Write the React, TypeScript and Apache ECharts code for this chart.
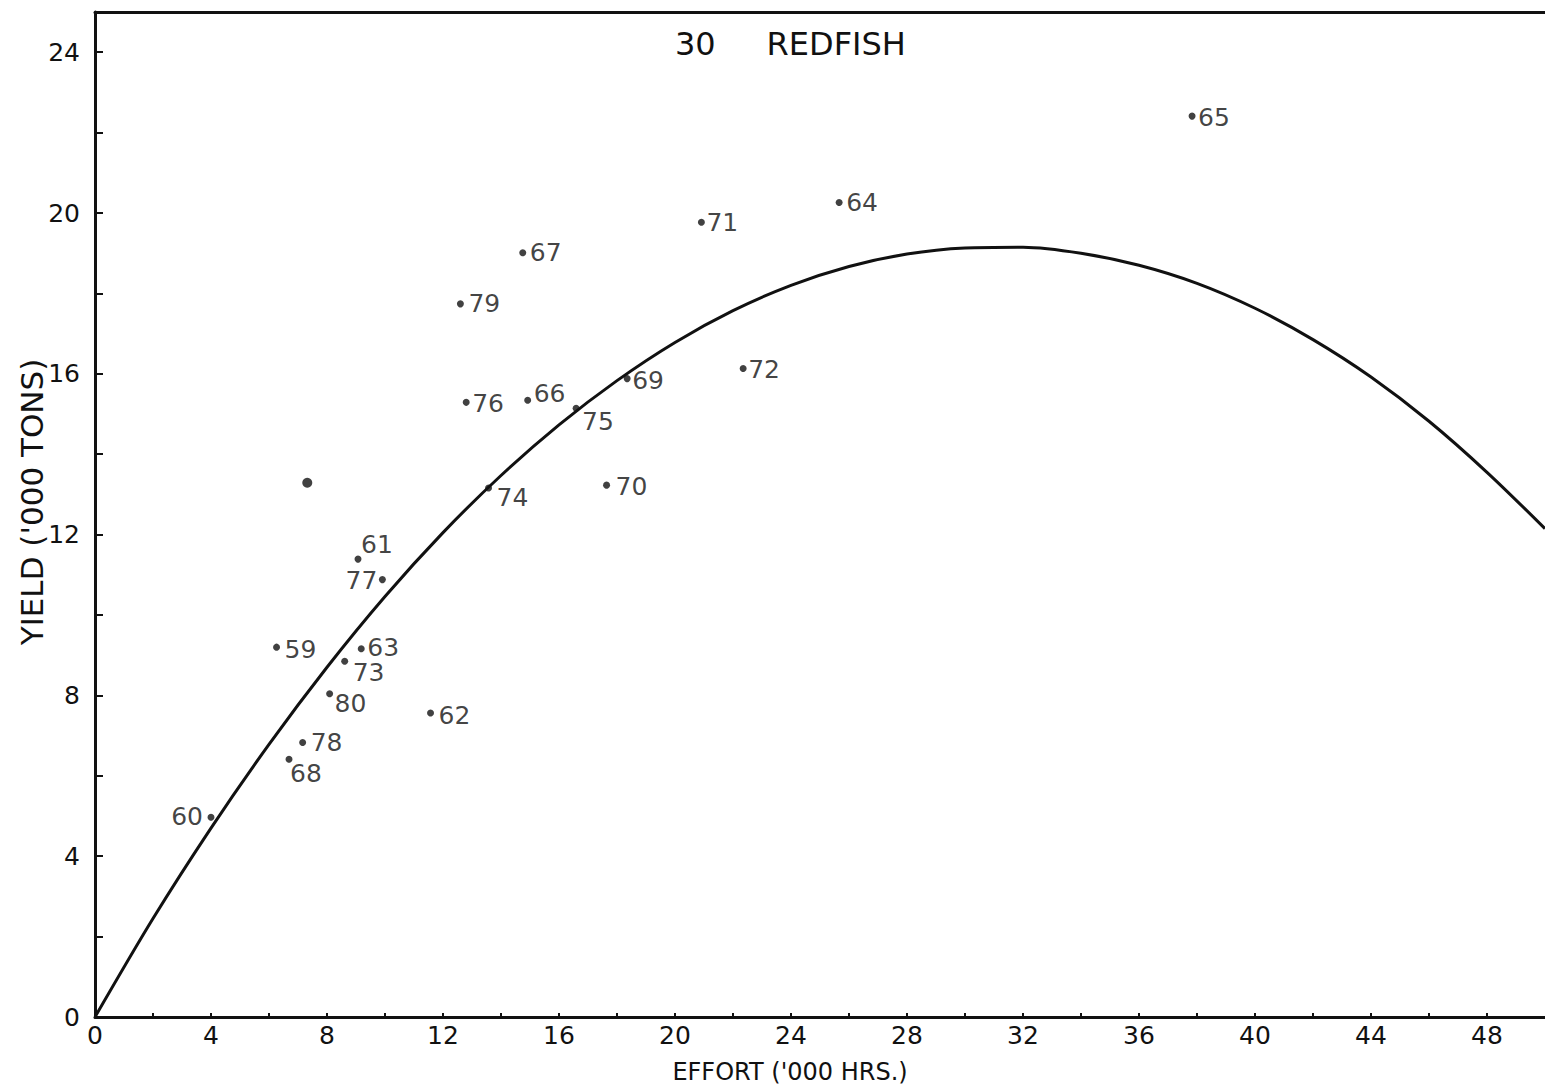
import React, { useEffect, useRef } from "react";
import * as echarts from "echarts";

// ---- data ----
const years = ["59", "60", "61", "62", "63", "64", "65", "66", "67", "68", "69", "70", "71", "72", "73", "74", "75", "76", "77", "78", "79", "80"];
const effort = [6.26, 4.0, 9.07, 11.57, 9.18, 25.66, 37.83, 14.92, 14.75, 6.69, 18.35, 17.64, 20.91, 22.35, 8.61, 13.57, 16.59, 12.8, 9.91, 7.16, 12.6, 8.09];
const yieldTons = [9.2, 4.97, 11.39, 7.56, 9.16, 20.26, 22.41, 15.34, 19.01, 6.41, 15.88, 13.23, 19.77, 16.13, 8.85, 13.16, 15.14, 15.29, 10.88, 6.83, 17.74, 8.04];
const extraEffort = [7.32];
const extraYield = [13.29];
const curveEffort = [0, 2, 4, 6, 8, 10, 12, 14, 16, 18, 20, 22, 24, 26, 28, 30, 32, 34, 36, 38, 40, 42, 44, 46, 48, 50];
const curveYield = [0, 2.45, 4.7, 6.78, 8.7, 10.46, 12.05, 13.47, 14.73, 15.83, 16.78, 17.57, 18.2, 18.67, 18.98, 19.13, 19.15, 19.0, 18.7, 18.25, 17.63, 16.85, 15.92, 14.82, 13.55, 12.15];
const titleText = "30\u00a0\u00a0\u00a0\u00a0\u00a0REDFISH";
const xName = "EFFORT ('000 HRS.)";
const yName = "YIELD ('000 TONS)";

// ---- label placement (layout, not data) ----
const labelLayout: Record<string, [string, number, number]> = {
  "59": ["right", 8, 2],
  "60": ["left", 8, -1],
  "61": ["right", 3, -15],
  "62": ["right", 8, 2],
  "63": ["right", 6, -1],
  "64": ["right", 7, 0],
  "65": ["right", 6, 1],
  "66": ["right", 6, -7],
  "67": ["right", 7, 0],
  "68": ["right", 1, 14],
  "69": ["right", 5, 2],
  "70": ["right", 9, 1],
  "71": ["right", 5, 0],
  "72": ["right", 5, 1],
  "73": ["right", 8, 11],
  "74": ["right", 8, 10],
  "75": ["right", 6, 13],
  "76": ["right", 6, 1],
  "77": ["left", 5, 1],
  "78": ["right", 8, 0],
  "79": ["right", 8, 0],
  "80": ["right", 5, 10],
};

const FONT = "DejaVu Sans";
const INK = "#111111";
const DOT = 7;

export default function App() {
  const ref = useRef<HTMLDivElement>(null);
  useEffect(() => {
    if (!ref.current) return;
    const chart = echarts.init(ref.current, null, { renderer: "svg" });
    const pts = years.map((yr, i) => {
      const [side, gap, dy] = labelLayout[yr];
      const dx = side === "right" ? gap - DOT / 2 : -(gap - DOT / 2);
      return {
        value: [effort[i], yieldTons[i]],
        label: {
          show: true,
          formatter: yr,
          position: side,
          distance: 0,
          offset: [dx, dy],
        },
      };
    });
    const curve = curveEffort.map((x, i) => [x, curveYield[i]]);
    const extra = extraEffort.map((x, i) => [x, extraYield[i]]);
    chart.setOption({
      animation: false,
      backgroundColor: "#ffffff",
      textStyle: { fontFamily: FONT, color: INK },
      grid: { left: 95, right: -6, top: 12, bottom: 72, containLabel: false },
      xAxis: [
        {
          type: "value",
          min: 0,
          max: 50,
          interval: 2,
          splitLine: { show: false },
          axisLine: { show: true, onZero: false, lineStyle: { color: INK, width: 3 } },
          axisTick: { show: true, inside: true, length: 4, lineStyle: { color: INK, width: 2 } },
          axisLabel: {
            margin: 6,
            fontSize: 25,
            fontFamily: FONT,
            color: INK,
            showMaxLabel: false,
            formatter: (v: number) => (v % 4 === 0 ? String(v) : ""),
          },
        },
        {
          type: "value",
          position: "top",
          min: 0,
          max: 50,
          splitLine: { show: false },
          axisLine: { show: true, onZero: false, lineStyle: { color: INK, width: 3 } },
          axisTick: { show: false },
          axisLabel: { show: false },
        },
      ],
      yAxis: {
        type: "value",
        min: 0,
        max: 25,
        interval: 2,
        splitLine: { show: false },
        axisLine: { show: true, onZero: false, lineStyle: { color: INK, width: 3 } },
        axisTick: { show: true, inside: true, length: 8, lineStyle: { color: INK, width: 2 } },
        axisLabel: {
          margin: 15,
          fontSize: 25,
          fontFamily: FONT,
          color: INK,
          showMaxLabel: false,
          formatter: (v: number) => (v % 4 === 0 ? String(v) : ""),
        },
      },
      series: [
        {
          type: "line",
          data: curve,
          smooth: 0.3,
          showSymbol: false,
          lineStyle: { color: INK, width: 3 },
          z: 2,
        },
        {
          type: "scatter",
          data: pts,
          symbol: "circle",
          symbolSize: DOT,
          itemStyle: { color: INK },
          label: { fontSize: 25, lineHeight: 19, fontFamily: FONT, color: INK },
          z: 3,
        },
        {
          type: "scatter",
          data: extra,
          symbol: "circle",
          symbolSize: 10,
          itemStyle: { color: INK },
          z: 3,
        },
      ],
      graphic: [
        {
          type: "text",
          x: 675,
          y: 44,
          style: { text: titleText, font: `32px '${FONT}'`, fill: INK, align: "left", verticalAlign: "middle" },
        },
        {
          type: "text",
          x: 790,
          y: 1072,
          style: { text: xName, font: `24px '${FONT}'`, fill: INK, align: "center", verticalAlign: "middle" },
        },
        {
          type: "text",
          x: 32,
          y: 502,
          rotation: Math.PI / 2,
          style: { text: yName, font: `31px '${FONT}'`, fill: INK, align: "center", verticalAlign: "middle" },
        },
      ],
    });
    return () => chart.dispose();
  }, []);
  return (
    <div
      ref={ref}
      style={{ position: "absolute", left: 0, top: 0, width: 1545, height: 1089, background: "#fff" }}
    />
  );
}
